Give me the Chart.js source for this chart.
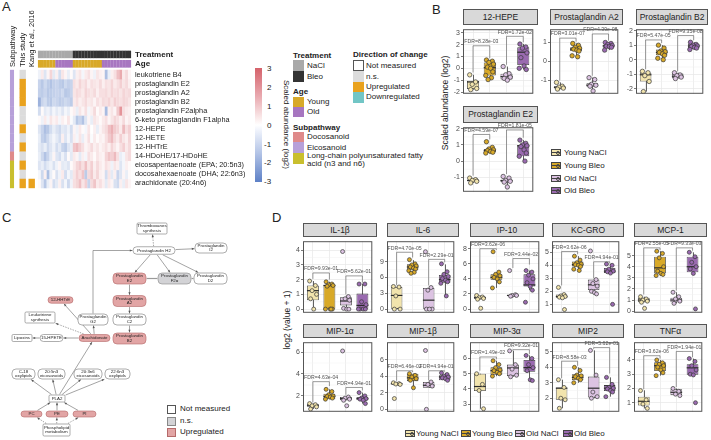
<!DOCTYPE html>
<html>
<head>
<meta charset="utf-8">
<title>Oxylipins and cytokines after bleomycin</title>
<script src="https://cdn.jsdelivr.net/npm/chart.js"></script>
<style>
  body { margin: 0; background: #fff; font-family: "Liberation Sans", Arial, sans-serif; color: #222; }
  #page { position: relative; width: 711px; height: 440px; overflow: hidden; background: #fff; }
  .tag { position: absolute; font-size: 13px; line-height: 13px; }
  .t { position: absolute; font-size: 8px; line-height: 10px; white-space: nowrap; }
  .b { font-weight: bold; }
  .sw { position: absolute; width: 11px; box-sizing: border-box; }
  .strip { position: absolute; box-sizing: border-box; background: #d9d9d9; border: 1px solid #555; font-size: 8.5px; text-align: center; color: #222; white-space: nowrap; }
  .ico { position: absolute; width: 10px; height: 7px; box-sizing: border-box; border: 0.8px solid #444; }
  .ico::after { content: ''; position: absolute; left: 0; right: 0; top: 2.4px; border-top: 0.8px solid #444; }
  .ico::before { content: ''; position: absolute; left: 3.5px; top: 1px; width: 2px; height: 2px; border: 0.6px solid #444; border-radius: 50%; }
  .vert { position: absolute; white-space: nowrap; font-size: 8.5px; transform-origin: center center; }
</style>
</head>
<body>
<div id="page">
  <div class="tag" style="left:2px;top:0px">A</div>
  <div class="tag" style="left:432px;top:3px">B</div>
  <div class="tag" style="left:2px;top:211px">C</div>
  <div class="tag" style="left:272px;top:211px">D</div>

  <!-- panel A legends -->
  <div style="position:absolute;left:255px;top:68px;width:7px;height:114px;background:linear-gradient(to bottom,#d5626b 0%,#e9aab0 25%,#fbeeee 45%,#ffffff 50%,#eef2fb 55%,#b2c3e6 75%,#5d80c6 100%)"></div>
  <div class="t" style="left:267px;top:64px">3</div>
  <div class="t" style="left:267px;top:83px">2</div>
  <div class="t" style="left:267px;top:102px">1</div>
  <div class="t" style="left:267px;top:121px">0</div>
  <div class="t" style="left:264px;top:140px">-1</div>
  <div class="t" style="left:264px;top:158px">-2</div>
  <div class="t" style="left:264px;top:177px">-3</div>
  <div class="vert" style="left:236px;top:120px;width:100px;text-align:center;font-size:8px;transform:rotate(90deg)">Scaled abundance (log2)</div>

  <div class="t b" style="left:293px;top:51px">Treatment</div>
  <div class="sw" style="left:293px;top:60px;height:11px;background:#a9a9a9"></div><div class="t" style="left:307px;top:61px">NaCl</div>
  <div class="sw" style="left:293px;top:71px;height:11px;background:#333"></div><div class="t" style="left:307px;top:72px">Bleo</div>
  <div class="t b" style="left:293px;top:87px">Age</div>
  <div class="sw" style="left:293px;top:97px;height:10px;background:#d8a928"></div><div class="t" style="left:307px;top:97px">Young</div>
  <div class="sw" style="left:293px;top:107px;height:10px;background:#a776c0"></div><div class="t" style="left:307px;top:107px">Old</div>
  <div class="t b" style="left:293px;top:123px">Subpathway</div>
  <div class="sw" style="left:293px;top:132px;height:10px;background:#df8a8a"></div><div class="t" style="left:307px;top:132px">Docosanoid</div>
  <div class="sw" style="left:293px;top:142px;height:11px;background:#b7a0d9"></div><div class="t" style="left:307px;top:143px">Eicosanoid</div>
  <div class="sw" style="left:293px;top:153px;height:11px;background:#c9bf2e"></div><div class="t" style="left:307px;top:152px;line-height:8px">Long-chain polyunsaturated fatty<br>acid (n3 and n6)</div>

  <div class="t b" style="left:353px;top:50px">Direction of change</div>
  <div class="sw" style="left:353px;top:60px;height:11px;background:#fff;border:1px solid #555"></div><div class="t" style="left:366px;top:61px">Not measured</div>
  <div class="sw" style="left:353px;top:71px;height:11px;background:#dcdcdc"></div><div class="t" style="left:366px;top:72px">n.s.</div>
  <div class="sw" style="left:353px;top:82px;height:10px;background:#e9a21e"></div><div class="t" style="left:366px;top:82px">Upregulated</div>
  <div class="sw" style="left:353px;top:92px;height:11px;background:#72c6c6"></div><div class="t" style="left:366px;top:92px">Downregulated</div>

  <!-- panel B legend -->
  <div class="ico" style="left:551px;top:149px;background:#f2e4ad"></div><div class="t" style="left:564px;top:148px">Young NaCl</div>
  <div class="ico" style="left:551px;top:162px;background:#d8a928"></div><div class="t" style="left:564px;top:161px">Young Bleo</div>
  <div class="ico" style="left:551px;top:175px;background:#dcc3e2"></div><div class="t" style="left:564px;top:174px">Old NaCl</div>
  <div class="ico" style="left:551px;top:187px;background:#9a6ab0"></div><div class="t" style="left:564px;top:186px">Old Bleo</div>
  <div class="vert" style="left:395px;top:98px;width:100px;text-align:center;transform:rotate(-90deg)">Scaled abundance (log2)</div>

  <!-- panel C legend -->
  <div class="sw" style="left:167px;top:405px;width:9px;height:9px;background:#fff;border:0.8px solid #555"></div><div class="t" style="left:180px;top:404px">Not measured</div>
  <div class="sw" style="left:167px;top:417px;width:9px;height:9px;background:#d3d3d6;border:0.8px solid #888"></div><div class="t" style="left:180px;top:416px">n.s.</div>
  <div class="sw" style="left:167px;top:428px;width:9px;height:9px;background:#e2a5a5;border:0.8px solid #b56a6a"></div><div class="t" style="left:180px;top:427px">Upregulated</div>

  <!-- panel D legend -->
  <div class="ico" style="left:405px;top:430px;background:#f2e4ad"></div><div class="t" style="left:416px;top:429px">Young NaCl</div>
  <div class="ico" style="left:461px;top:430px;background:#d8a928"></div><div class="t" style="left:472px;top:429px">Young Bleo</div>
  <div class="ico" style="left:515px;top:430px;background:#dcc3e2"></div><div class="t" style="left:526px;top:429px">Old NaCl</div>
  <div class="ico" style="left:563px;top:430px;background:#9a6ab0"></div><div class="t" style="left:574px;top:429px">Old Bleo</div>
  <div class="vert" style="left:237px;top:315px;width:100px;text-align:center;transform:rotate(-90deg)">log2 (value + 1)</div>
</div>
<script>
// ---------- panel A data ----------
const metabolites = ['leukotriene B4', 'prostaglandin E2', 'prostaglandin A2', 'prostaglandin B2',
  'prostaglandin F2alpha', '6-keto prostaglandin F1alpha', '12-HEPE', '12-HETE', '12-HHTrE',
  '14-HDoHE/17-HDoHE', 'eicosapentaenoate (EPA; 20:5n3)', 'docosahexaenoate (DHA; 22:6n3)', 'arachidonate (20:4n6)'];
const treatment = ['NaCl','NaCl','NaCl','NaCl','NaCl','NaCl','NaCl','NaCl','NaCl','NaCl','NaCl','NaCl',
  'Bleo','Bleo','Bleo','Bleo','Bleo','Bleo','Bleo','Bleo','Bleo','Bleo','Bleo','Bleo','Bleo','Bleo','Bleo','Bleo','Bleo','Bleo','Bleo','Bleo'];
const age = ['Young','Young','Young','Young','Young','Young','Old','Old','Old','Old','Old','Old',
  'Young','Young','Young','Young','Young','Young','Young','Young','Young','Young','Old','Old','Old','Old','Old','Old','Old','Old','Old','Old'];
const subpathway = ['Eicosanoid','Eicosanoid','Eicosanoid','Eicosanoid','Eicosanoid','Eicosanoid','Eicosanoid','Eicosanoid','Eicosanoid',
  'Docosanoid','Long-chain','Long-chain','Long-chain'];
const thisStudy = ['n.s.','Up','Up','Up','n.s.','n.s.','Up','n.s.','Up','n.s.','Up','n.s.','Up'];
const kang2016 = ['NM','NM','NM','NM','NM','NM','NM','NM','NM','NM','NM','NM','Up'];
const hmLeukB4 = [-0.3,0.4,-0.6,0.2,0.8,-0.5, 0.3,-0.8,0.5,0.2,-0.4,0.1, -0.6,0.3,0.5,-0.2,0.4,0.6,0.2,-0.3,0.5,0.3, 0.2,-1.5,-0.4,0.3,0.6,1.2,1.6,0.4,0.7,0.2];
const hmPGE2 = [-1.0,-1.3,-0.9,-1.2,-1.4,-1.1, -1.0,-1.2,-1.3,-0.9,-1.1,-1.0, 0.6,0.4,0.8,0.5,0.7,0.3,0.6,0.5,0.4,0.7, 0.3,0.6,0.5,0.8,0.4,0.6,0.9,0.5,0.7,0.3];
const hmPGA2 = [-1.1,-1.2,-1.0,-1.3,-1.2,-1.1, -1.0,-1.1,-0.9,-1.3,-1.2,-1.0, 0.5,0.7,0.6,0.4,0.8,0.6,0.5,0.7,0.3,0.6, 0.6,0.7,0.5,0.8,0.6,0.7,0.5,0.8,0.6,0.7];
const hmPGB2 = [-1.8,-1.0,-0.8,-1.2,-1.3,-0.9, -1.0,-1.2,-1.1,-0.9,-1.0,-1.2, 0.4,0.6,0.3,0.5,0.7,0.4,0.5,0.2,0.6,0.4, 0.7,0.6,0.8,0.5,0.9,0.7,0.6,0.8,0.7,0.5];
const hmPGF2a = [-0.8,0.1,-0.5,-0.3,-0.6,-0.2, -0.5,-0.3,-0.6,-0.2,-0.4,0.1, 0.3,-0.4,0.5,0.2,0.6,-0.2,0.3,0.7,0.1,0.4, 0.2,-1.6,0.3,0.5,0.2,1.0,2.0,0.6,0.4,0.3];
const hmKetoPGF1a = [0.1,-0.3,0.4,-0.2,0.5,0.2, 0.4,-0.2,0.3,0.1,0.5,-0.1, -0.5,-1.3,-1.0,-1.4,-0.6,0.2,-0.4,0.5,0.3,0.1, 0.4,0.6,0.2,0.5,0.8,0.6,0.3,0.7,0.2,0.4];
const hmHEPE = [-0.6,-1.0,-1.5,-1.3,-0.8,-0.4, -0.7,-0.9,-0.5,-0.6,-0.3,-0.8, 0.2,-0.3,0.4,0.1,-0.2,0.5,0.0,0.3,-0.4,0.2, 0.5,0.7,1.2,1.5,1.0,0.8,0.4,1.3,0.6,0.9];
const hmHETE = [-0.4,-1.1,-1.3,-0.9,-0.5,-0.2, -0.5,-0.8,0.3,-0.6,-0.2,-0.7, 0.3,-0.2,0.5,-0.4,0.2,0.6,-0.1,0.4,0.1,0.3, 0.2,0.6,1.0,1.3,0.7,0.4,0.9,0.5,0.3,0.8];
const hmHHTrE = [-0.5,-0.7,-0.4,-0.9,-0.6,-0.3, -0.8,-0.5,-1.0,-1.2,-0.6,-0.4, 1.1,1.3,0.9,0.6,0.2,0.4,0.7,0.3,0.5,0.2, 0.4,0.6,0.3,0.8,0.5,0.2,0.6,0.9,0.4,0.7];
const hmHDoHE = [-0.4,-0.9,-1.4,-1.0,-0.5,0.2, -0.6,-0.8,-0.3,-0.7,0.1,-0.5, 0.4,0.2,-0.5,0.3,-0.2,0.6,0.4,0.1,0.5,0.3, 0.2,0.8,1.1,0.9,1.3,0.6,-0.4,-0.2,0.5,0.7];
const hmEPA = [-0.6,-0.4,-0.8,-0.5,-0.3,-0.7, -0.3,0.2,-0.5,-0.4,-0.6,0.1, 0.4,0.8,1.0,0.6,1.2,0.5,0.9,0.3,0.7,0.4, 0.2,0.6,0.4,-0.3,0.5,0.3,-0.6,-0.2,0.3,0.1];
const hmDHA = [-0.2,-0.9,0.3,-1.5,-0.4,0.1, -0.7,-0.3,0.4,-0.8,-0.2,-0.5, 0.5,0.9,0.6,1.1,-1.2,0.7,1.0,0.4,0.8,0.3, 0.2,-0.8,0.5,-0.5,0.3,-1.0,-0.6,0.2,-0.4,0.1];
const hmArachidonate = [0.1,-0.6,-1.3,-0.4,0.2,-0.8, -0.5,0.3,-0.7,-0.2,-0.9,-0.3, 0.6,0.8,1.2,0.5,0.9,-1.0,0.7,1.1,0.4,0.6, 0.3,-0.5,0.4,0.2,-0.7,-0.9,0.3,-0.4,0.5,0.2];
const heatRows = [hmLeukB4, hmPGE2, hmPGA2, hmPGB2, hmPGF2a, hmKetoPGF1a, hmHEPE, hmHETE, hmHHTrE, hmHDoHE, hmEPA, hmDHA, hmArachidonate];

// ---------- panel B / D data: box = [low whisker, q1, median, q3, high whisker] per group ----------
const groups = ['Young NaCl', 'Young Bleo', 'Old NaCl', 'Old Bleo'];

const hepeBox = [[-1.8,-1.75,-1.15,-1.05,-0.55],[-0.95,-0.6,0.05,0.5,0.7],[-1.0,-0.95,-0.7,-0.45,0.15],[-0.1,0.28,1.36,1.77,2.05]];
const hepePts = [[-0.55,-1.15,-1.35,-1.7,-1.8],[0.7,0.6,0.5,0.35,0.1,0.0,-0.3,-0.6,-0.8,-0.95],[0.15,-0.45,-0.55,-0.75,-0.85,-1.0],[2.05,1.8,1.7,1.3,0.9,0.2,-0.1,0.0]];
const hepeFdr = [[1.9,-0.35,0.85,'FDR=8.28e-03'],[2.7,0.3,2.2,'FDR=1.72e-02']];

const pga2Box = [[-1.45,-1.42,-1.36,-1.3,-1.1],[0.25,0.55,0.65,0.75,0.95],[-1.55,-1.33,-1.25,-1.15,-0.85],[0.6,0.72,0.82,0.88,1.0]];
const pga2Pts = [[-1.1,-1.3,-1.35,-1.4,-1.45],[0.95,0.85,0.75,0.7,0.65,0.6,0.55,0.3,0.25],[-0.85,-0.95,-1.2,-1.25,-1.3,-1.55],[1.0,0.95,0.9,0.85,0.8,0.78,0.75,0.6]];
const pga2Fdr = [[1.23,-1.0,1.05,'FDR=3.01e-07'],[1.45,-0.75,1.1,'FDR=4.39e-08']];

const pgb2Box = [[-2.2,-1.5,-1.04,-0.9,-0.8],[0.0,0.3,0.5,0.7,1.0],[-1.3,-1.28,-1.14,-0.96,-0.9],[0.7,0.8,0.94,1.1,1.2]];
const pgb2Pts = [[-0.8,-0.9,-1.1,-1.5,-2.2],[1.0,0.8,0.6,0.55,0.5,0.4,0.3,0.1,0.0],[-0.9,-1.05,-1.1,-1.2,-1.3],[1.2,1.05,1.0,0.95,0.9,0.85,0.8,0.7]];
const pgb2Fdr = [[1.36,-0.65,1.15,'FDR=5.47e-05'],[1.66,-0.8,1.35,'FDR=9.35e-08']];

const pge2Box = [[-1.35,-1.25,-1.2,-1.15,-1.05],[0.5,0.55,0.65,0.75,0.85],[-1.6,-1.3,-1.2,-1.15,-0.95],[0.0,0.3,0.95,1.0,1.3]];
const pge2Pts = [[-1.05,-1.15,-1.2,-1.25,-1.35],[1.2,0.85,0.75,0.7,0.65,0.6,0.55,0.5],[-0.95,-1.05,-1.2,-1.25,-1.3,-1.6],[1.3,1.1,1.0,0.95,0.9,0.7,0.5,0.3,0.0]];
const pge2Fdr = [[1.65,-0.9,1.35,'FDR=4.59e-07'],[1.93,-0.8,1.45,'FDR=1.81e-05']];

const il1bBox = [[0,0.6,1.25,1.6,1.9],[0,0,1.6,1.65,1.85],[0,0.25,0.55,0.8,0.9],[0,0,0.25,1.05,1.7]];
const il1bPts = [[1.9,1.6,1.25,1.0,0.7,0.0],[1.85,1.7,1.65,1.6,1.55,0,0,0,0],[3.9,0.85,0.7,0.6,0.05,0,0],[1.7,1.7,0.5,0.3,0,0,0,0]];
const il1bFdr = [[2.45,2.05,2.0,'FDR=9.93e-01'],[2.25,1.0,1.8,'FDR=5.62e-01']];

const il6Box = [[0,0,2.6,4.2,4.3],[6.8,7.5,8.0,8.5,9.3],[0,0,1.7,4.0,4.1],[2.5,5.0,5.6,6.5,8.5]];
const il6Pts = [[4.3,4.2,2.5,0,0],[9.4,8.6,8.4,8.2,8.0,7.8,7.6,7.3,7.0,6.8],[10.9,4.1,3.6,0,0,0],[8.6,7.1,6.6,6.2,5.8,5.5,5.2,4.9,2.5]];
const il6Fdr = [[10.8,4.55,9.8,'FDR=4.70e-05'],[9.45,4.5,8.9,'FDR=2.29e-01']];

const ip10Box = [[1.3,1.35,1.5,1.65,1.8],[2.8,3.9,4.2,4.6,4.9],[1.7,1.72,1.8,1.88,1.9],[2.5,3.0,3.2,4.6,5.1]];
const ip10Pts = [[1.8,1.6,1.5,1.4,1.3,0.1],[7.6,4.9,4.6,4.4,4.2,4.0,3.6,2.8],[5.1,1.9,1.8,1.8,1.7],[5.1,4.9,4.5,4.0,3.5,3.0,2.5,0.9]];
const ip10Fdr = [[8.0,2.2,7.85,'FDR=3.62e-06'],[6.7,5.45,5.9,'FDR=3.44e-02']];

const kcgroBox = [[1.5,1.5,1.6,1.75,1.75],[3.6,3.9,4.05,4.3,4.7],[1.8,2.1,2.5,2.9,2.9],[3.4,3.4,3.55,3.8,4.1]];
const kcgroPts = [[2.3,1.75,1.65,1.6,1.55,1.5,0.6],[4.7,4.4,4.2,4.1,4.05,4.0,3.9,3.7,3.6],[5.1,2.9,2.6,2.4,2.0,1.9,1.8],[4.1,4.0,3.7,3.55,3.5,3.4,1.0]];
const kcgroFdr = [[5.06,2.45,4.85,'FDR=3.62e-06'],[4.27,3.0,4.15,'FDR=4.94e-01']];

const mcp1Box = [[0.8,0.8,1.0,1.2,1.3],[3.2,3.4,3.9,4.9,5.4],[0.7,0.8,1.0,1.2,1.7],[3.4,3.5,4.0,4.9,5.3]];
const mcp1Pts = [[1.3,1.1,1.0,0.9,0.8,0.25],[5.4,5.2,4.8,4.0,3.6,3.4,3.3,3.2],[1.7,1.3,1.1,0.9,0.7],[5.3,4.9,4.4,4.0,3.8,3.4,0.2]];
const mcp1Fdr = [[5.7,1.5,5.5,'FDR=2.55e-05'],[5.7,1.85,5.45,'FDR=9.33e-03']];

const mip1aBox = [[0.8,1.0,1.15,1.25,1.3],[1.7,1.7,1.95,2.2,2.6],[1.6,1.6,1.75,1.9,1.9],[1.3,1.6,1.75,1.9,2.3]];
const mip1aPts = [[1.3,1.2,1.1,1.0,0.8],[2.6,2.4,2.1,2.0,1.95,1.9,1.8,1.7],[6.1,1.9,1.8,1.7,1.6,1.1],[2.3,2.0,1.8,1.75,1.7,1.6,1.3]];
const mip1aFdr = [[3.3,1.4,2.9,'FDR=4.63e-04'],[2.77,2.1,2.5,'FDR=4.94e-01']];

const mip1bBox = [[3.0,3.0,3.1,3.2,3.2],[2.6,3.4,3.8,4.3,4.3],[2.6,2.6,2.9,3.3,3.3],[3.5,3.5,3.9,4.1,4.4]];
const mip1bPts = [[3.2,3.1,3.05,3.0,1.3],[4.3,4.1,3.9,3.7,3.5,2.6],[7.1,3.3,3.0,2.8,0.0],[4.4,4.2,4.0,3.9,3.8,3.7,3.5]];
const mip1bFdr = [[4.65,3.45,4.5,'FDR=6.46e-02'],[4.65,3.5,4.55,'FDR=4.94e-01']];

const mip3aBox = [[2.7,3.87,4.16,5.0,5.0],[4.84,4.94,5.2,5.42,5.85],[4.8,4.84,5.38,5.6,6.5],[4.55,5.13,5.4,5.9,6.2]];
const mip3aPts = [[5.0,4.3,3.9,2.7],[5.85,5.6,5.4,5.25,5.2,5.1,5.0,4.84],[6.5,5.6,5.3,4.9,4.8],[6.2,6.0,5.6,5.4,5.2,4.6,4.55]];
const mip3aFdr = [[6.1,5.2,5.95,'FDR=1.49e-02'],[6.58,6.5,6.3,'FDR=9.32e-01']];

const mip2Box = [[1.35,1.9,2.65,2.7,3.2],[3.0,3.17,3.35,3.55,4.0],[2.0,2.05,2.65,3.4,5.1],[2.1,2.46,2.65,2.85,3.35]];
const mip2Pts = [[3.2,2.7,2.0,1.9,1.35],[4.0,3.8,3.5,3.45,3.4,3.3,3.2,3.0],[5.1,3.5,2.4,2.1,2.0],[3.35,2.9,2.7,2.65,2.6,2.5,2.4,2.1]];
const mip2Fdr = [[4.4,3.3,4.1,'FDR=8.58e-03'],[5.28,5.2,3.6,'FDR=5.62e-01']];

const tnfaBox = [[0.6,0.8,1.1,1.42,1.87],[2.9,3.23,3.6,3.85,4.0],[1.5,1.53,1.73,1.95,2.0],[2.95,2.97,3.45,3.7,4.1]];
const tnfaPts = [[1.85,1.2,0.9,0.6],[4.0,3.8,3.7,3.6,3.5,3.3,3.1,2.9],[2.0,1.8,1.6,1.5],[4.1,3.9,3.6,3.3,3.0,2.95,1.0]];
const tnfaFdr = [[4.3,1.95,4.1,'FDR=3.62e-06'],[4.6,2.1,4.2,'FDR=1.94e-01']];

// ---------- panel C data ----------
const pathNames = ['Thromboxanes\nsynthesis','Prostaglandin H2','Prostaglandin\nI2','Prostaglandin\nE2','Prostaglandin\nF2\u03b1',
  'Prostaglandin\nD2','12-HHTrE','Prostaglandin\nA2','Leukotriene\nsynthesis','Prostaglandin\nG2','Prostaglandin\nC2',
  'Lipoxins','15-HPETE','Arachidonate','Prostaglandin\nB2','C-18\noxylipids','20:5n3\neicosanoids','20:3n6\neicosanoids',
  '22:6n3\noxylipids','PLA2','PC','PE','PI','Phospholipid\nmetabolism'];
const pathStatus = ['nm','nm','nm','up','ns','nm','up','up','nm','nm','nm','nm','nm','up','up','nm','nm','nm','nm','nm','up','up','up','nm'];
const pathEdges = [[1,0,'dash'],[1,2,'arrow'],[1,3,'arrow'],[1,4,'arrow'],[1,5,'arrow'],[3,4,'link'],[4,5,'link'],
  [3,7,'arrow'],[7,10,'arrow'],[10,14,'arrow'],[9,1,'elbow'],[13,9,'arrow'],[13,6,'arrow'],[13,8,'dash'],[13,12,'arrow'],
  [12,11,'arrow'],[19,13,'arrow'],[19,15,'arrow'],[19,16,'arrow'],[19,17,'arrow'],[19,18,'arrow'],
  [20,19,'arrow'],[21,19,'arrow'],[22,19,'arrow'],[23,20,'dash'],[23,21,'dash'],[23,22,'dash']];

// ---------- styles / layout ----------
const FONT = '"Liberation Sans", Arial, sans-serif';
Chart.defaults.font.family = FONT;
const groupFill = ['#f2e4ad', '#d8a928', '#dcc3e2', '#9a6ab0'];
const treatCol = {NaCl: '#a9a9a9', Bleo: '#333333'};
const ageCol = {Young: '#d8a928', Old: '#a776c0'};
const subCol = {Eicosanoid: '#b7a0d9', Docosanoid: '#df8a8a', 'Long-chain': '#c9bf2e'};
const dirCol = {'n.s.': '#dcdcdc', Up: '#e9a21e', NM: '#ffffff'};
const JIT = [-0.2, 0.15, -0.05, 0.22, -0.14, 0.05, 0.18, -0.24, 0.1, -0.1, 0.25, -0.02];
const page = document.getElementById('page');

function mkCanvas(l, t, w, h) {
  const c = document.createElement('canvas');
  c.width = w; c.height = h;
  c.style.cssText = `position:absolute;left:${l}px;top:${t}px;width:${w}px;height:${h}px`;
  page.appendChild(c);
  return c;
}

function heatColor(v) {
  const t = Math.min(Math.abs(v) / 3, 1);
  const c = v > 0 ? [214, 96, 104] : [91, 127, 197];
  return `rgb(${c.map(k => Math.round(255 - t * (255 - k))).join(',')})`;
}

// ---------- panel A heatmap ----------
(function () {
  const cv = mkCanvas(0, 0, 250, 195);
  const cell = {barPercentage: 1.06, categoryPercentage: 1, grouped: false, borderWidth: 0};
  const ds = heatRows.map((vals, r) => Object.assign({
    data: vals.map((v, c) => ({x: c + 0.5, y: [r - 0.03, r + 1.03]})),
    backgroundColor: vals.map(heatColor)
  }, cell));
  ds.push(Object.assign({data: treatment.map((t, c) => ({x: c + 0.5, y: [-2.13, -1.3]})), backgroundColor: treatment.map(t => treatCol[t])}, cell));
  ds.push(Object.assign({data: age.map((a, c) => ({x: c + 0.5, y: [-1.1, -0.26]})), backgroundColor: age.map(a => ageCol[a])}, cell));
  ds.push(Object.assign({}, cell, {data: subpathway.map((s, r) => ({x: -8.95, y: [r - 0.02, r + 1.02]})), backgroundColor: subpathway.map(s => subCol[s]), barPercentage: 1.4}));
  ds.push(Object.assign({}, cell, {data: thisStudy.map((s, r) => ({x: -5.27, y: [r - 0.02, r + 1.02]})), backgroundColor: thisStudy.map(s => dirCol[s]), barPercentage: 2.2}));
  ds.push(Object.assign({}, cell, {data: kang2016.map((s, r) => ({x: -2.17, y: [r - 0.02, r + 1.02]})), backgroundColor: kang2016.map(s => dirCol[s]), barPercentage: 2.2}));

  const labels = {
    id: 'heatLabels',
    afterDraw(chart) {
      const {ctx, scales: {x: xs, y: ys}} = chart;
      ctx.save();
      ctx.fillStyle = '#222';
      ctx.textBaseline = 'middle';
      ctx.textAlign = 'left';
      ctx.font = `7.3px ${FONT}`;
      const lx = xs.getPixelForValue(32) + 4;
      metabolites.forEach((m, r) => ctx.fillText(m, lx, ys.getPixelForValue(r + 0.5)));
      ctx.font = `bold 8px ${FONT}`;
      ctx.fillText('Treatment', lx, ys.getPixelForValue(-1.72));
      ctx.fillText('Age', lx, ys.getPixelForValue(-0.68));
      ctx.font = `7.5px ${FONT}`;
      [['Subpathway', -8.7], ['This study', -5.1], ['Kang et al., 2016', -2.0]].forEach(([t, xv]) => {
        ctx.save();
        ctx.translate(xs.getPixelForValue(xv), 67);
        ctx.rotate(-Math.PI / 2);
        ctx.fillText(t, 0, 0);
        ctx.restore();
      });
      ctx.restore();
    }
  };

  new Chart(cv, {
    type: 'bar',
    data: {datasets: ds},
    options: {
      responsive: false, animation: false, events: [],
      layout: {padding: 0},
      plugins: {legend: {display: false}, tooltip: {enabled: false}},
      scales: {
        x: {type: 'linear', min: -13.08, max: 72.95, offset: false, grid: {offset: false}, display: false},
        y: {type: 'linear', min: -7.71, max: 13.77, reverse: true, display: false}
      }
    },
    plugins: [labels]
  });
})();

// ---------- box plot facets (panels B and D) ----------
function boxPanel(x, top, w, h, strip, title, box, pts, fdr, ticks, range, pr) {
  const s = document.createElement('div');
  s.className = 'strip';
  s.style.cssText = `left:${x}px;top:${top}px;width:${w}px;height:${strip}px;line-height:${strip - 2}px`;
  s.textContent = title;
  page.appendChild(s);

  const AX = 16;
  const cv = mkCanvas(x - AX, top + strip - 1, w + AX, h);
  const ptData = [], ptCol = [];
  pts.forEach((arr, g) => arr.forEach((v, k) => {
    ptData.push({x: g + 1 + JIT[k % JIT.length], y: v});
    ptCol.push(groupFill[g]);
  }));

  const extras = {
    id: 'boxExtras',
    beforeDatasetsDraw(chart) {
      const {ctx, chartArea: a, scales: {x: xs, y: ys}} = chart;
      ctx.save();
      ctx.strokeStyle = '#f0f0f0';
      ctx.lineWidth = 0.5;
      for (let i = 0; i < ticks.length - 1; i++) {
        const yy = ys.getPixelForValue((ticks[i] + ticks[i + 1]) / 2);
        ctx.beginPath(); ctx.moveTo(a.left, yy); ctx.lineTo(a.right, yy); ctx.stroke();
      }
      ctx.strokeStyle = '#3a3a3a';
      ctx.lineWidth = 0.8;
      box.forEach((b, i) => {
        const px = Math.round(xs.getPixelForValue(i + 1)) + 0.5;
        ctx.beginPath();
        ctx.moveTo(px, ys.getPixelForValue(b[0]));
        ctx.lineTo(px, ys.getPixelForValue(b[4]));
        ctx.stroke();
      });
      ctx.restore();
    },
    afterDatasetDraw(chart, args) {
      if (args.index !== 0) return;
      const {ctx, scales: {y: ys}} = chart;
      ctx.save();
      ctx.strokeStyle = '#2a2a2a';
      ctx.lineWidth = 1.2;
      chart.getDatasetMeta(0).data.forEach((bar, i) => {
        const yy = ys.getPixelForValue(box[i][2]);
        ctx.beginPath();
        ctx.moveTo(bar.x - bar.width / 2, yy);
        ctx.lineTo(bar.x + bar.width / 2, yy);
        ctx.stroke();
      });
      ctx.restore();
    },
    afterDraw(chart) {
      const {ctx, chartArea: a, scales: {x: xs, y: ys}} = chart;
      ctx.save();
      ctx.strokeStyle = '#555';
      ctx.lineWidth = 1;
      ctx.strokeRect(a.left + 0.5, a.top + 0.5, a.width - 1, a.height - 1);
      ctx.lineWidth = 0.6;
      ctx.strokeStyle = '#555';
      ctx.fillStyle = '#555';
      ctx.font = `5.2px ${FONT}`;
      ctx.textAlign = 'center';
      ctx.textBaseline = 'bottom';
      fdr.forEach((f, k) => {
        const x1 = xs.getPixelForValue(2 * k + 1), x2 = xs.getPixelForValue(2 * k + 2);
        const yb = ys.getPixelForValue(f[0]);
        ctx.beginPath();
        ctx.moveTo(x1, ys.getPixelForValue(f[1]));
        ctx.lineTo(x1, yb);
        ctx.lineTo(x2, yb);
        ctx.lineTo(x2, ys.getPixelForValue(f[2]));
        ctx.stroke();
        ctx.fillText(f[3], (x1 + x2) / 2, yb - 1.5);
      });
      ctx.restore();
    }
  };

  new Chart(cv, {
    type: 'bar',
    data: {
      datasets: [
        {type: 'bar', order: 2, data: box.map((b, i) => ({x: i + 1, y: [b[1], b[3]]})),
         backgroundColor: groupFill, borderColor: '#3a3a3a', borderWidth: 0.8, borderSkipped: false,
         barPercentage: 0.72, categoryPercentage: 1, grouped: false},
        {type: 'scatter', order: 1, data: ptData, pointBackgroundColor: ptCol, pointBorderColor: '#3a3a3a',
         pointBorderWidth: 0.7, pointRadius: pr}
      ]
    },
    options: {
      responsive: false, animation: false, events: [],
      layout: {padding: 0},
      plugins: {legend: {display: false}, tooltip: {enabled: false}},
      scales: {
        x: {type: 'linear', min: 0.4, max: 4.6, offset: false,
            grid: {offset: false, color: '#e6e6e6', lineWidth: 0.7, drawTicks: false},
            ticks: {display: false}, border: {display: false},
            afterBuildTicks: s => { s.ticks = [1, 2, 3, 4].map(v => ({value: v})); },
            afterFit: s => { s.height = 0; }},
        y: {type: 'linear', min: range[0], max: range[1],
            grid: {color: '#e6e6e6', lineWidth: 0.7, tickColor: '#444', tickLength: 2},
            ticks: {font: {size: 7, family: FONT}, color: '#4d4d4d', padding: 1},
            border: {display: false},
            afterBuildTicks: s => { s.ticks = ticks.map(v => ({value: v})); },
            afterFit: s => { s.width = AX; }}
      }
    },
    plugins: [extras]
  });
}

// panel B
boxPanel(463, 9, 75, 75, 16, '12-HEPE', hepeBox, hepePts, hepeFdr, [-2, -1, 0, 1, 2, 3], [-2.15, 3.3], 2.2);
boxPanel(550, 9, 73, 75, 16, 'Prostaglandin A2', pga2Box, pga2Pts, pga2Fdr, [-1, 0, 1], [-1.7, 1.7], 2.2);
boxPanel(636, 9, 72, 75, 16, 'Prostaglandin B2', pgb2Box, pgb2Pts, pgb2Fdr, [-2, -1, 0, 1, 2], [-2.35, 2.1], 2.2);
boxPanel(463, 106, 75, 75, 17, 'Prostaglandin E2', pge2Box, pge2Pts, pge2Fdr, [-1, 0, 1, 2], [-1.9, 2.1], 2.2);

// panel D
const dX = [303, 387, 470, 552, 634], dW = [74, 72, 74, 72, 73];
boxPanel(dX[0], 223, dW[0], 82, 14, 'IL-1\u03b2', il1bBox, il1bPts, il1bFdr, [0, 1, 2, 3, 4], [-0.25, 4.6], 2);
boxPanel(dX[1], 223, dW[1], 82, 14, 'IL-6', il6Box, il6Pts, il6Fdr, [0, 3, 6, 9], [-0.7, 12.9], 2);
boxPanel(dX[2], 223, dW[2], 82, 14, 'IP-10', ip10Box, ip10Pts, ip10Fdr, [0, 2, 4, 6, 8], [-0.5, 9.0], 2);
boxPanel(dX[3], 223, dW[3], 82, 14, 'KC-GRO', kcgroBox, kcgroPts, kcgroFdr, [1, 2, 3, 4, 5], [0.35, 5.85], 2);
boxPanel(dX[4], 223, dW[4], 82, 14, 'MCP-1', mcp1Box, mcp1Pts, mcp1Fdr, [0, 1, 2, 3, 4, 5], [-0.15, 6.3], 2);
boxPanel(dX[0], 324, dW[0], 80, 14, 'MIP-1\u03b1', mip1aBox, mip1aPts, mip1aFdr, [2, 4, 6], [0.55, 6.9], 2);
boxPanel(dX[1], 324, dW[1], 80, 14, 'MIP-1\u03b2', mip1bBox, mip1bPts, mip1bFdr, [0, 2, 4, 6], [-0.3, 8.1], 2);
boxPanel(dX[2], 324, dW[2], 80, 14, 'MIP-3\u03b1', mip3aBox, mip3aPts, mip3aFdr, [3, 4, 5, 6], [2.5, 7.07], 2);
boxPanel(dX[3], 324, dW[3], 80, 14, 'MIP2', mip2Box, mip2Pts, mip2Fdr, [2, 3, 4, 5], [1.12, 5.63], 2);
boxPanel(dX[4], 324, dW[4], 80, 14, 'TNF\u03b1', tnfaBox, tnfaPts, tnfaFdr, [1, 2, 3, 4], [0.36, 5.25], 2);

// ---------- panel C pathway ----------
(function () {
  // [centre x, centre y, width, height, shape] in page pixels
  const nodeLayout = [
    [152,228.5,30,11,'box'], [154,250.5,42,7.5,'pill'], [211,248,32,10,'pill'], [129.5,278.5,33,11,'pill'],
    [174.5,278.5,33,11,'pill'], [210.5,278.5,33,11,'pill'], [60.5,300,25,6.5,'pill'], [129.5,301,33,11,'pill'],
    [40,317.5,30,11,'box'], [93,319.5,30,11,'pill'], [129.5,319.5,33,11,'pill'], [22,338,20,7,'box'],
    [51.5,338,23,7,'pill'], [94.5,338,31,7,'pill'], [129.5,338.5,33,11,'pill'], [23.5,374,23,10,'pill'],
    [51.5,374,27,10,'pill'], [88,374,28,10,'pill'], [117.5,374,25,10,'pill'], [57,398.5,16,7,'box'],
    [31.5,414,21,6,'pill'], [57,414,22,6,'pill'], [84.5,414,23,6,'pill'], [56.5,430,27,12,'box']
  ];
  const fill = {nm: '#ffffff', ns: '#d3d3d6', up: '#e2a5a5'};
  const stroke = {nm: '#777', ns: '#888', up: '#b56a6a'};

  function border(b, tx, ty) {
    const dx = tx - b[0], dy = ty - b[1];
    const t = Math.min(dx ? (b[2] / 2 + 0.6) / Math.abs(dx) : Infinity, dy ? (b[3] / 2 + 0.6) / Math.abs(dy) : Infinity);
    return [b[0] + dx * t, b[1] + dy * t];
  }

  const draw = {
    id: 'pathway',
    afterDraw(chart) {
      const {ctx, scales: {x: xs, y: ys}} = chart;
      const P = (x, y) => [xs.getPixelForValue(x), ys.getPixelForValue(y)];
      ctx.save();
      function seg(pts, kind) {
        ctx.strokeStyle = kind === 'link' ? '#9a9a9a' : '#666';
        ctx.lineWidth = kind === 'link' ? 1.2 : 0.6;
        ctx.setLineDash(kind === 'dash' ? [1.4, 1.2] : []);
        ctx.beginPath();
        pts.forEach((p, i) => { const q = P(p[0], p[1]); i ? ctx.lineTo(q[0], q[1]) : ctx.moveTo(q[0], q[1]); });
        ctx.stroke();
        ctx.setLineDash([]);
        if (kind === 'link') return;
        const a = P(...pts[pts.length - 2]), b = P(...pts[pts.length - 1]);
        const ang = Math.atan2(b[1] - a[1], b[0] - a[0]);
        ctx.fillStyle = '#555';
        ctx.beginPath();
        ctx.moveTo(b[0], b[1]);
        ctx.lineTo(b[0] - 2.6 * Math.cos(ang) + 1.1 * Math.sin(ang), b[1] - 2.6 * Math.sin(ang) - 1.1 * Math.cos(ang));
        ctx.lineTo(b[0] - 2.6 * Math.cos(ang) - 1.1 * Math.sin(ang), b[1] - 2.6 * Math.sin(ang) + 1.1 * Math.cos(ang));
        ctx.closePath();
        ctx.fill();
      }
      pathEdges.forEach(([f, t, kind]) => {
        const A = nodeLayout[f], B = nodeLayout[t];
        if (kind === 'elbow') {
          seg([[A[0], A[1] - A[3] / 2 - 0.5], [A[0], B[1]], [B[0] - B[2] / 2 - 0.6, B[1]]], 'arrow');
        } else {
          seg([border(A, B[0], B[1]), border(B, A[0], A[1])], kind);
        }
      });
      nodeLayout.forEach((b, i) => {
        const st = pathStatus[i];
        const [x0, y0] = P(b[0] - b[2] / 2, b[1] - b[3] / 2);
        const w = b[2], h = b[3];
        const r = b[4] === 'pill' ? Math.min(h / 2, 4) : 1.2;
        ctx.beginPath();
        ctx.moveTo(x0 + r, y0);
        ctx.arcTo(x0 + w, y0, x0 + w, y0 + h, r);
        ctx.arcTo(x0 + w, y0 + h, x0, y0 + h, r);
        ctx.arcTo(x0, y0 + h, x0, y0, r);
        ctx.arcTo(x0, y0, x0 + w, y0, r);
        ctx.closePath();
        ctx.fillStyle = fill[st];
        ctx.fill();
        ctx.strokeStyle = stroke[st];
        ctx.lineWidth = 0.6;
        ctx.stroke();
        const lines = pathNames[i].split('\n');
        ctx.fillStyle = '#222';
        ctx.font = `4.4px ${FONT}`;
        ctx.textAlign = 'center';
        ctx.textBaseline = 'middle';
        const [cx, cy] = P(b[0], b[1]);
        lines.forEach((ln, k) => ctx.fillText(ln, cx, cy + (k - (lines.length - 1) / 2) * 4.5));
      });
      ctx.restore();
    }
  };

  const cv = mkCanvas(0, 200, 240, 240);
  new Chart(cv, {
    type: 'scatter',
    data: {datasets: [{data: [], pointRadius: 0}]},
    options: {
      responsive: false, animation: false, events: [],
      layout: {padding: 0},
      plugins: {legend: {display: false}, tooltip: {enabled: false}},
      scales: {
        x: {type: 'linear', min: 0, max: 240, display: false},
        y: {type: 'linear', min: 200, max: 440, reverse: true, display: false}
      }
    },
    plugins: [draw]
  });
})();
</script>
</body>
</html>
